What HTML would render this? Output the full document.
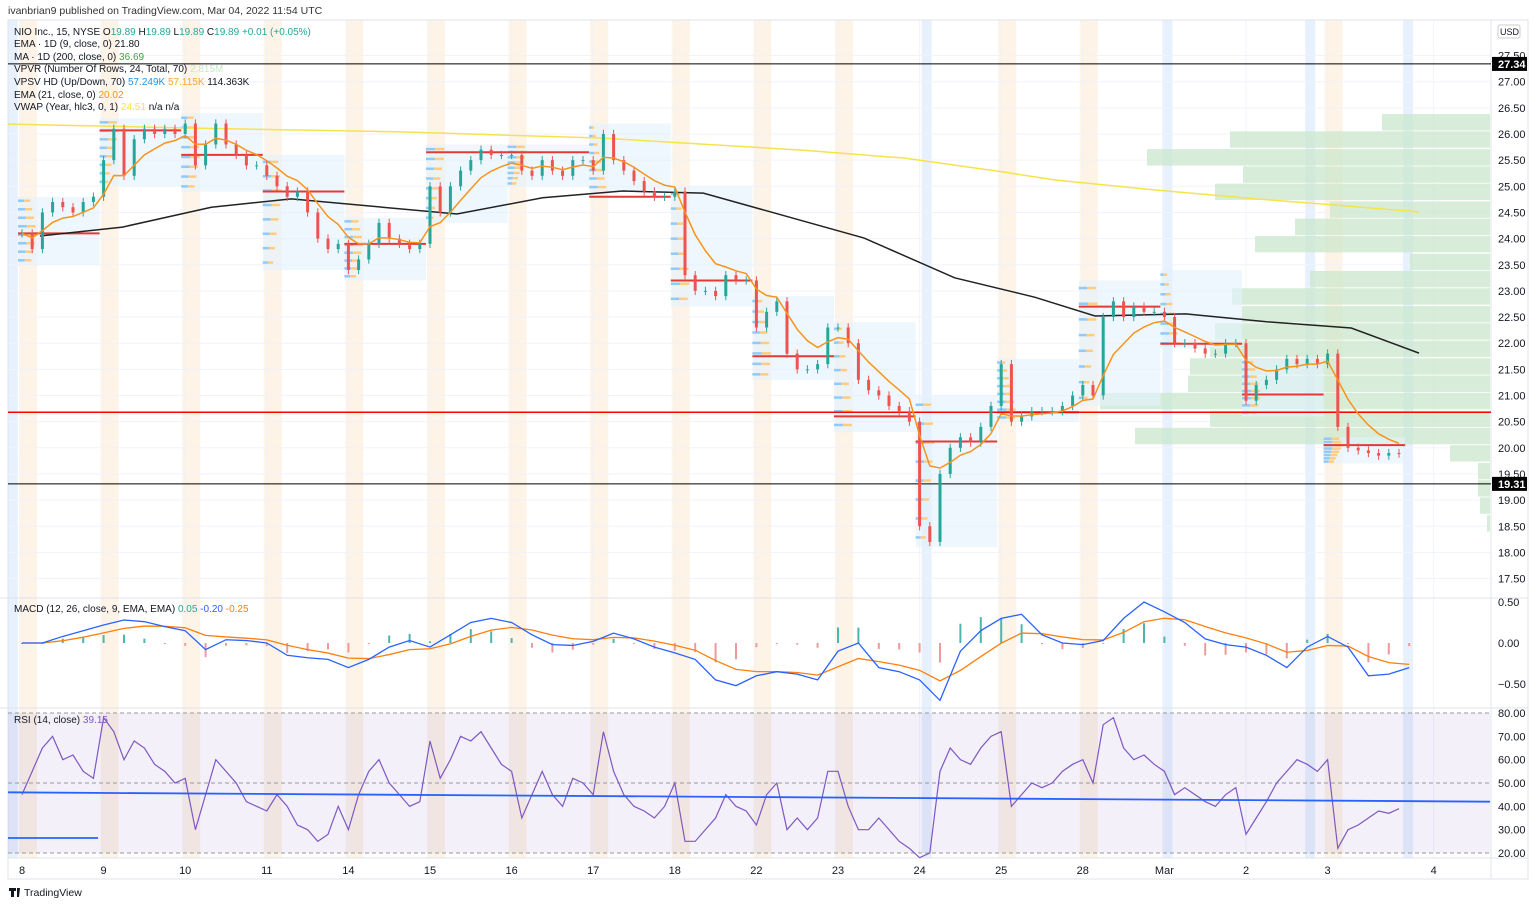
<!DOCTYPE html>
<html><head><meta charset="utf-8"><style>
body{margin:0;background:#fff;font-family:"Liberation Sans",sans-serif;}
svg text{font-family:"Liberation Sans",sans-serif;}
</style></head><body>
<svg id="c" width="1536" height="906" xmlns="http://www.w3.org/2000/svg">
<rect width="1536" height="906" fill="#fff"/>
</svg>
<script>
const dayLabels=["8","9","10","11","14","15","16","17","18","22","23","24","25","28","Mar","2","3","4"];
const dayLabelT=[0,1,2,3,4,5,6,7,8,9,10,11,12,13,14,15,16,17.3];
const priceTicks=[27.5,27,26.5,26,25.5,25,24.5,24,23.5,23,22.5,22,21.5,21,20.5,20,19.5,19,18.5,18,17.5];
const closes=[
24.1,23.8,24.5,24.7,24.6,24.5,24.7,24.8,
25.5,26.1,25.2,25.9,26.1,26.0,26.1,26.0,
26.2,25.4,25.8,26.2,25.8,25.6,25.4,25.4,
25.2,25.0,24.8,24.9,24.5,24.0,23.8,23.9,
23.4,23.6,23.9,24.3,24.0,23.9,23.8,23.9,
25.0,24.5,25.0,25.3,25.5,25.7,25.6,25.6,
25.6,25.3,25.2,25.5,25.3,25.2,25.5,25.5,
25.3,26.0,25.5,25.3,25.1,24.9,24.8,24.8,
24.9,23.3,23.0,23.0,22.9,23.3,23.2,23.2,
22.3,22.6,22.8,21.8,21.5,21.5,21.6,22.3,
22.3,22.0,21.3,21.1,21.0,20.8,20.7,20.5,
18.5,18.2,19.5,20.0,20.2,20.1,20.4,20.8,
21.6,20.5,20.6,20.7,20.7,20.7,20.8,21.0,
21.2,21.0,22.5,22.8,22.5,22.7,22.6,22.6,
22.5,22.0,22.0,21.9,21.8,21.8,22.0,22.0,
20.9,21.2,21.3,21.5,21.7,21.6,21.7,21.6,
21.8,20.4,20.0,19.95,19.9,19.85,19.9,19.89];
const vwapT=[0.22,1.23,2.32,3.3,5.33,6.38,7.36,8.35,10.32,11.43,12.41,13.15,14.26,15.25,16.29,17.12];
const vwapP=[24.05,24.22,24.6,24.76,24.47,24.78,24.91,24.87,24.01,23.25,22.88,22.52,22.56,22.41,22.29,21.81];
const maT=[-0.17,2.19,4.66,7.12,9.58,10.81,12.04,12.66,13.89,15.12,16.11,17.12];
const maP=[26.19,26.11,26.04,25.92,25.69,25.54,25.27,25.12,24.93,24.76,24.64,24.51];
const vpRowPrice=[26.4,26.07,25.73,25.4,25.07,24.73,24.4,24.07,23.73,23.4,23.07,22.73,22.4,22.07,21.73,21.4,21.07,20.73,20.4,20.07,19.73,19.4,19.07,18.73];
const vpVolume=[108,260,343,247,275,160,195,235,80,180,258,248,275,280,300,302,390,280,355,40,12,12,10,3];
const sessT=[0,1,2,3,4,5,6,7,8,9,10,11,12,13,14,15,16];
const sessHi=[24.8,26.3,26.4,25.6,24.4,25.8,25.8,26.2,25.0,22.9,22.4,21.0,21.7,23.2,23.4,21.7,20.2];
const sessLo=[23.5,25.0,24.9,23.4,23.2,24.3,25.0,24.9,22.7,21.3,20.3,18.1,20.5,20.8,21.9,20.6,19.7];
const sessPoc=[24.1,26.07,25.6,24.9,23.9,25.65,25.65,24.8,23.2,21.75,20.6,20.12,20.68,22.7,21.99,21.02,20.05];
const macdVals=[0,0,0.08,0.15,0.22,0.28,0.26,0.2,0.15,-0.08,0.04,0.03,0,-0.15,-0.18,-0.2,-0.3,-0.2,-0.05,0.03,-0.05,0.1,0.25,0.3,0.25,0.1,-0.02,-0.03,0.02,0.12,0.05,-0.05,-0.12,-0.2,-0.45,-0.52,-0.4,-0.35,-0.38,-0.45,-0.1,0,-0.3,-0.35,-0.45,-0.7,-0.1,0.15,0.3,0.35,0.1,0,-0.02,0.03,0.3,0.5,0.38,0.25,0.05,-0.02,-0.05,-0.15,-0.3,-0.05,0.08,-0.05,-0.4,-0.38,-0.3];
const rsiVals=[45,55,65,70,60,62,55,52,78,72,60,68,65,58,55,50,52,30,45,60,55,50,42,40,38,45,40,32,30,25,28,40,30,45,55,60,50,45,40,42,68,52,60,70,68,72,65,58,55,35,45,55,45,40,52,50,45,72,55,45,40,38,35,40,50,25,25,30,35,45,40,38,32,45,50,30,35,30,35,55,55,40,30,30,35,30,25,22,18,20,55,65,60,58,65,70,72,40,45,50,48,50,55,58,60,50,75,78,65,60,62,58,55,45,48,45,42,40,45,48,28,35,42,50,55,60,58,55,60,22,30,32,35,38,37,39];
const rsiMaStart=46, rsiMaEnd=42;
const orangeDays=[0,1,2,3,4,5,6,7,8,9,10,12,13,16];
const blueStripeT=[-0.15,11.05,14.0,15.75,16.95];

const S=document.getElementById('c');const NS='http://www.w3.org/2000/svg';
function el(t,a,p){const e=document.createElementNS(NS,t);for(const k in a)e.setAttribute(k,a[k]);(p||S).appendChild(e);return e;}
const tx=t=>22+81.6*t;
const py=p=>134+(26-p)*52.3;
const my=v=>643-v*82;
const ry=v=>713+(80-v)*(140/60);
const L=8,R=1490;
orangeDays.forEach(d=>{const r=el('rect',{x:tx(d)-3,y:20,width:18,height:838,fill:'#fdf0e0',opacity:0.8});});
blueStripeT.forEach(t=>{const r=el('rect',{x:tx(t)-2,y:20,width:10,height:838,fill:'#e3f0fd',opacity:0.9});});
priceTicks.forEach(p=>{el('line',{x1:L,x2:R,y1:py(p),y2:py(p),stroke:'#f0f3fa'});});
dayLabelT.forEach(t=>{el('line',{x1:tx(t),x2:tx(t),y1:20,y2:858,stroke:'#f0f3fa'});});
el('line',{x1:0,x2:1528,y1:598,y2:598,stroke:'#e0e3eb'});
el('line',{x1:0,x2:1528,y1:708,y2:708,stroke:'#e0e3eb'});
el('rect',{x:8,y:20,width:1520,height:859,fill:'none',stroke:'#e0e3eb'});
el('line',{x1:1491,x2:1491,y1:20,y2:879,stroke:'#e0e3eb'});
el('line',{x1:8,x2:1528,y1:858,y2:858,stroke:'#e0e3eb'});
vpRowPrice.forEach((p,i)=>{const w=vpVolume[i];const r=el('rect',{x:R-w,y:py(p)+1,width:w,height:16.4,fill:'#c8e6c9',opacity:0.7});});
sessT.forEach((t,i)=>{const x0=tx(t)-4,x1=tx(t+1)-4;
const b=el('rect',{x:x0,y:py(sessHi[i]),width:x1-x0,height:py(sessLo[i])-py(sessHi[i]),fill:'#e3f2fd',opacity:0.6});
for(let k=0;k<8;k++){const pp=sessLo[i]+(sessHi[i]-sessLo[i])*(k+0.5)/8;const w=5+14*(1-Math.abs(pp-sessPoc[i])/(sessHi[i]-sessLo[i]+0.01));el('rect',{x:x0,y:py(pp)-1.5,width:w*0.5,height:2.5,fill:'#90caf9'});el('rect',{x:x0+w*0.5,y:py(pp)-1.5,width:w*0.5,height:2.5,fill:'#ffcc80'});}
const pl=el('line',{x1:x0,x2:x1,y1:py(sessPoc[i]),y2:py(sessPoc[i]),stroke:'#e53935','stroke-width':2});});
let h=el('line',{x1:L,x2:1491,y1:py(20.68),y2:py(20.68),stroke:'#f00','stroke-width':1.5});
h=el('line',{x1:L,x2:1491,y1:py(27.34),y2:py(27.34),stroke:'#000'});
h=el('line',{x1:L,x2:1491,y1:py(19.31),y2:py(19.31),stroke:'#000'});
let d=maT.map((t,i)=>(i?'L':'M')+tx(t)+','+py(maP[i])).join('');
let pa=el('path',{d,fill:'none',stroke:'#f5e34b','stroke-width':1.5});
d=vwapT.map((t,i)=>(i?'L':'M')+tx(t)+','+py(vwapP[i])).join('');
pa=el('path',{d,fill:'none',stroke:'#222','stroke-width':1.5});
closes.forEach((c,i)=>{const o=i?closes[i-1]:c;const x=tx(i/8);const up=c>=o;const col=up?'#26a69a':'#ef5350';
const hi=Math.max(o,c)+0.08,lo=Math.min(o,c)-0.08;
el('line',{x1:x,x2:x,y1:py(hi),y2:py(lo),stroke:col});
const r=el('rect',{x:x-1.5,y:py(Math.max(o,c)),width:3,height:Math.max(1,Math.abs(py(o)-py(c))),fill:col});
});
let e=closes[0];const ema=closes.map(c=>(e=e+(c-e)*2/7));
d=ema.map((v,i)=>(i?'L':'M')+tx(i/8)+','+py(v)).join('');
pa=el('path',{d,fill:'none',stroke:'#f7931a','stroke-width':1.5});
let s=macdVals[0];const sig=macdVals.map(v=>(s=s+(v-s)*0.35));
macdVals.forEach((v,i)=>{const hv=v-sig[i];const x=tx(i/4);const r=el('rect',{x:x-1,y:Math.min(my(0),my(hv)),width:2,height:Math.max(1,Math.abs(my(hv)-my(0))),fill:hv>=0?'#4db6ac':'#ef9a9a'});});
d=sig.map((v,i)=>(i?'L':'M')+tx(i/4)+','+my(v)).join('');
pa=el('path',{d,fill:'none',stroke:'#ff7f0e','stroke-width':1.3});
d=macdVals.map((v,i)=>(i?'L':'M')+tx(i/4)+','+my(v)).join('');
pa=el('path',{d,fill:'none',stroke:'#2962ff','stroke-width':1.3});
el('rect',{x:L,y:ry(80),width:R-L,height:ry(20)-ry(80),fill:'#7e57c2',opacity:0.09});
[80,50,20].forEach(v=>el('line',{x1:L,x2:R,y1:ry(v),y2:ry(v),stroke:'#999','stroke-dasharray':'4,3'}));
d=rsiVals.map((v,i)=>(i?'L':'M')+tx(i/8)+','+ry(v)).join('');
pa=el('path',{d,fill:'none',stroke:'#7e57c2','stroke-width':1.2});
pa=el('line',{x1:L,x2:R,y1:ry(rsiMaStart),y2:ry(rsiMaEnd),stroke:'#2962ff','stroke-width':1.8});
el('line',{x1:L,x2:98,y1:838,y2:838,stroke:'#2962ff','stroke-width':1.8});
function txt(x,y,str,a){const t=el('text',Object.assign({x,y,'font-size':11,fill:'#131722'},a||{}));t.textContent=str;return t;}
priceTicks.forEach(p=>{const t=txt(1498,py(p)+4,p.toFixed(2));});
[0.5,0,-0.5].forEach(v=>{const t=txt(1498,my(v)+4,v.toFixed(2).replace('-','\u2212'));});
[80,70,60,50,40,30,20].forEach(v=>{const t=txt(1498,ry(v)+4,v.toFixed(2));});
dayLabels.forEach((l,i)=>{const t=txt(tx(dayLabelT[i]),874,l,{'text-anchor':'middle'});});
[[27.34,'27.34'],[19.31,'19.31']].forEach(([p,l])=>{el('rect',{x:1492,y:py(p)-7,width:35,height:14,fill:'#000'});txt(1498,py(p)+4,l,{fill:'#fff','font-weight':'bold'});});
el('rect',{x:1498,y:25,width:22,height:13,fill:'#fff',stroke:'#ccc',rx:2});txt(1500,35,'USD',{'font-size':9});
txt(8,14,'ivanbrian9 published on TradingView.com, Mar 04, 2022 11:54 UTC',{'font-size':10.5,fill:'#333'});
const leg=[[35,[['NIO Inc., 15, NYSE  O','#131722'],['19.89','#26a69a'],['  H','#131722'],['19.89','#26a69a'],['  L','#131722'],['19.89','#26a69a'],['  C','#131722'],['19.89','#26a69a'],['  +0.01 (+0.05%)','#26a69a']]],
[47,[['EMA · 1D (9, close, 0)  ','#131722'],['21.80','#131722']]],
[60,[['MA · 1D (200, close, 0)  ','#131722'],['36.69','#43a047']]],
[72,[['VPVR (Number Of Rows, 24, Total, 70)  ','#131722'],['2.815M','#c8e6c9']]],
[85,[['VPSV HD (Up/Down, 70)  ','#131722'],['57.249K','#2196f3'],['  57.115K','#ffa726'],['  114.363K','#131722']]],
[98,[['EMA (21, close, 0)  ','#131722'],['20.02','#f7931a']]],
[110,[['VWAP (Year, hlc3, 0, 1)  ','#131722'],['24.51','#f5e34b'],['  n/a  n/a','#131722']]]];
leg.forEach(([y,parts])=>{const t=el('text',{x:14,y,'font-size':10,'xml:space':'preserve'});parts.forEach(([s,c])=>{const sp=el('tspan',{fill:c},t);sp.textContent=s;});});
let m=el('text',{x:14,y:612,'font-size':10,'xml:space':'preserve'});
[['MACD (12, 26, close, 9, EMA, EMA)  ','#131722'],['0.05','#26a69a'],['  -0.20','#2962ff'],['  -0.25','#ff7f0e']].forEach(([s,c])=>{el('tspan',{fill:c},m).textContent=s;});
m=el('text',{x:14,y:723,'font-size':10,'xml:space':'preserve'});
[['RSI (14, close)  ','#131722'],['39.15','#7e57c2']].forEach(([s,c])=>{el('tspan',{fill:c},m).textContent=s;});
el('path',{d:'M9 888h7v3h-2v6h-3v-6h-2z M17 888h3l-1 9h-2z',fill:'#131722'});
txt(24,896,'TradingView',{'font-size':10.5,fill:'#131722'});
</script>
</body></html>
